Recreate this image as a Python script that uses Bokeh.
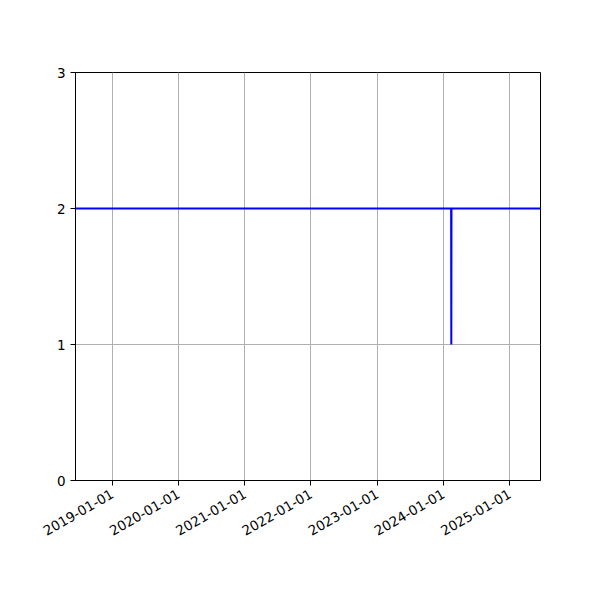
import math
from datetime import datetime

from bokeh.plotting import figure
from bokeh.models import FixedTicker, DatetimeTickFormatter, Range1d
from bokeh.embed import file_html
from bokeh.resources import INLINE

# data
dates = ["2018-06-12", "2024-02-13", "2024-02-14", "2024-02-15", "2025-06-20"]
values = [2, 2, 1, 2, 2]
x_ticks = ["2019-01-01", "2020-01-01", "2021-01-01", "2022-01-01",
           "2023-01-01", "2024-01-01", "2025-01-01"]
y_ticks = [0, 1, 2, 3]

def ms(s):
    return datetime.strptime(s, "%Y-%m-%d").timestamp() * 1000

xs = [datetime.strptime(d, "%Y-%m-%d") for d in dates]

p = figure(width=592, height=592, x_axis_type="datetime",
           output_backend="svg", toolbar_location=None,
           x_range=Range1d(xs[0], xs[-1]), y_range=Range1d(0, 3),
           min_border_left=75, min_border_top=72,
           min_border_right=52, min_border_bottom=112)

p.line(xs, values, line_color="#0000ff", line_width=2)

p.xaxis.ticker = FixedTicker(ticks=[ms(t) for t in x_ticks])
p.xaxis.formatter = DatetimeTickFormatter(days="%Y-%m-%d", months="%Y-%m-%d",
                                          years="%Y-%m-%d")
p.xaxis.major_label_orientation = math.pi / 6
p.yaxis.ticker = FixedTicker(ticks=y_ticks)

for ax in (p.xaxis, p.yaxis):
    ax.major_label_text_font = "DejaVu Sans"
    ax.major_label_text_font_size = "13.5px"
    ax.major_label_text_color = "black"
    ax.axis_line_color = "black"
    ax.major_tick_line_color = "black"
    ax.major_tick_out = 5
    ax.major_tick_in = 0
    ax.minor_tick_line_color = None
    ax.major_label_standoff = 5
p.xaxis.major_label_standoff = 7

p.grid.grid_line_color = "#b0b0b0"
p.grid.grid_line_width = 1
p.outline_line_color = "black"
p.outline_line_width = 1
p.outline_line_alpha = 1

open("out.html", "w").write(file_html(p, INLINE))
